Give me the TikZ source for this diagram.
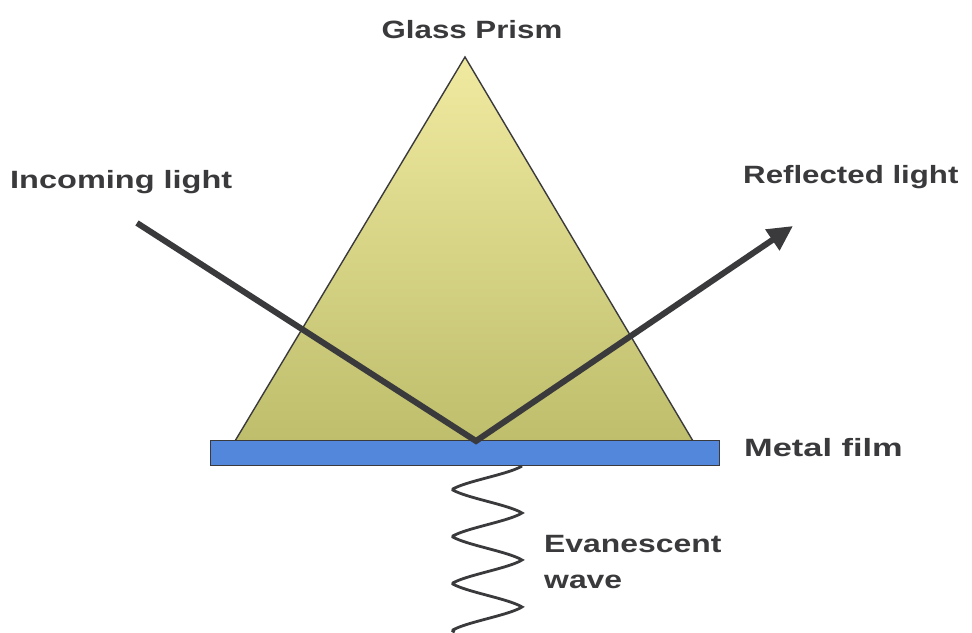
\documentclass[tikz,border=0pt]{standalone}
\usepackage{fontspec}
\setmainfont{Liberation Sans}[FakeStretch=1.25]
\usetikzlibrary{arrows.meta,calc}
\definecolor{ink}{RGB}{58,58,60}
\definecolor{prismtop}{RGB}{240,234,160}
\definecolor{prismbot}{RGB}{190,190,108}
\definecolor{filmblue}{RGB}{82,135,220}
\tikzset{
  lbl/.style={font=\fontsize{25}{30}\selectfont\bfseries, text=ink, inner sep=0pt},
  beam/.style={draw=ink, line width=6pt},
}
\begin{document}
\begin{tikzpicture}[x=1pt,y=-1pt]
\useasboundingbox (0,0) rectangle (972,632);
\fill[white] (0,0) rectangle (972,632);
% prism
\coordinate (apex) at (465,57);
\coordinate (bl) at (235,441);
\coordinate (br) at (693,441);
\shade[top color=prismtop, bottom color=prismbot] (apex) -- (br) -- (bl) -- cycle;
\draw[ink, line width=1.4pt, line join=miter] (apex) -- (br) -- (bl) -- cycle;
% film
\node[draw=ink, line width=1.4pt, fill=filmblue, minimum width=509pt, minimum height=25pt, inner sep=0pt, anchor=north west] (film) at (210,440) {};
% beams
\coordinate (src) at (137,223);
\coordinate (hit) at (476,441);
\coordinate (tip) at (793,226);
\draw[beam, line join=miter, -{Triangle[length=25pt,width=24pt]}] (src) -- (hit) -- (tip);
% wave
\draw[ink, line width=2.8pt, smooth] plot[domain=0:166, samples=160]
  ({487+35*(0.45*cos(7.6596*\x)+0.55*asin(cos(7.6596*\x))/90)}, {466+\x});
% labels
\node[lbl, anchor=base] (prism) at (472,38) {Glass Prism};
\node[lbl, anchor=base west] (inc) at (10,188) {\scalebox{1.04}[1]{Incoming light}};
\node[lbl, anchor=base west] (refl) at (743,183) {Reflected light};
\node[lbl, anchor=base west] (metal) at (744,456) {\scalebox{1.1}[1]{Metal film}};
\node[lbl, anchor=base west] (evan) at (544,552) {\scalebox{1.02}[1]{Evanescent}};
\node[lbl, anchor=base west] (wave) at (544,588) {\scalebox{1.02}[1]{wave}};
\end{tikzpicture}
\end{document}
